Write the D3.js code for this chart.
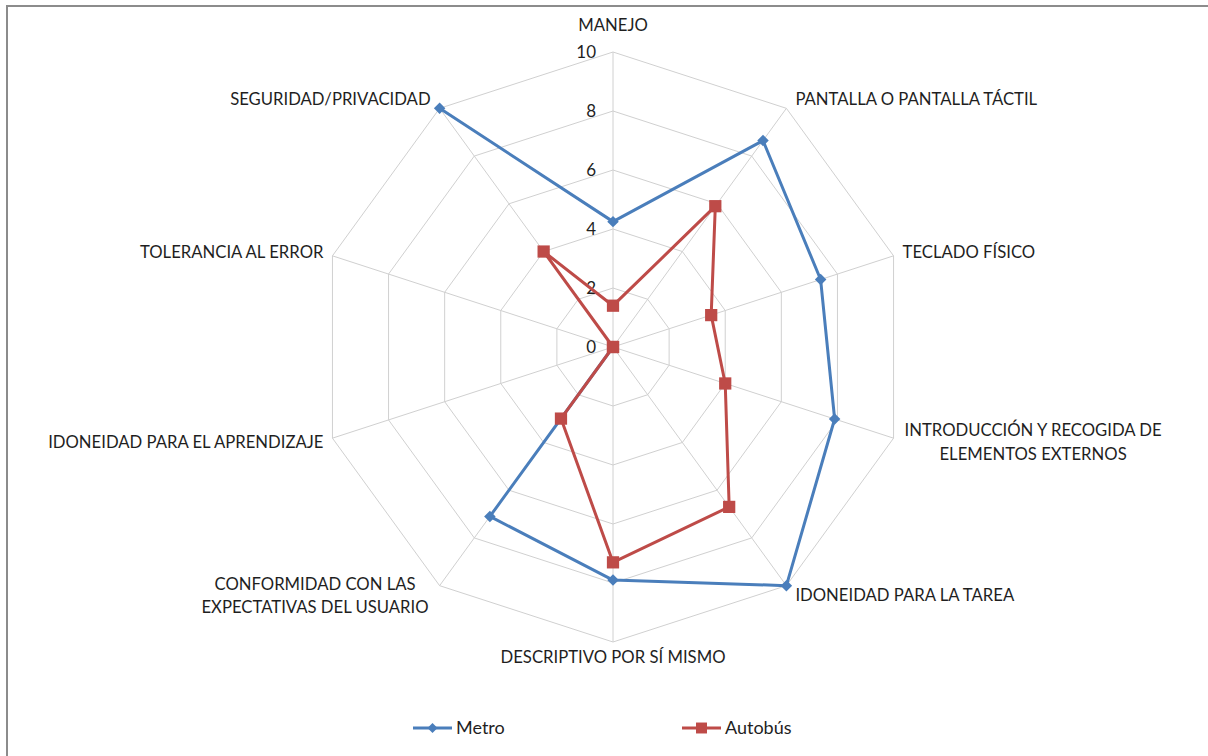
<!DOCTYPE html>
<html><head><meta charset="utf-8">
<script src="https://cdn.jsdelivr.net/npm/d3@7"></script>
<style>body{margin:0;background:#fff} svg{display:block}</style>
</head><body>
<svg id="c" width="1208" height="756"></svg>
<script>
const categories = ["MANEJO","PANTALLA O PANTALLA TÁCTIL","TECLADO FÍSICO","INTRODUCCIÓN Y RECOGIDA DE\nELEMENTOS EXTERNOS","IDONEIDAD PARA LA TAREA","DESCRIPTIVO POR SÍ MISMO","CONFORMIDAD CON LAS\nEXPECTATIVAS DEL USUARIO","IDONEIDAD PARA EL APRENDIZAJE","TOLERANCIA AL ERROR","SEGURIDAD/PRIVACIDAD"];
const metro   = [4.25, 8.65, 7.4, 7.9, 10, 7.9, 7.1, 0, null, 10];
const autobus = [1.4, 5.9, 3.5, 4.0, 6.7, 7.3, 3.0, 0, 0, 4.0];
const tickValues = [0, 2, 4, 6, 8, 10];
const seriesNames = ["Metro", "Autobús"];

const W = 1208, H = 756, cx = 613, cy = 347, R = 295;
const FONT = "Lato, 'Open Sans', sans-serif";
const TXT = "#1f1f1f";
const LABEL_SIZE = 16.7;
const colors = ["#4a7ebb", "#be4b48"];

const svg = d3.select("#c");
svg.append("rect").attr("x",7).attr("y",6).attr("width",W+20).attr("height",H+20)
  .attr("fill","#fff").attr("stroke","#8c8c8c").attr("stroke-width",2);

const n = categories.length;
const r = d3.scaleLinear().domain([0, 10]).range([0, R]);
const ang = d3.scaleLinear().domain([0, n]).range([0, 2*Math.PI]);
const g = svg.append("g").attr("transform", `translate(${cx},${cy})`);

// grid
const ringLine = d3.lineRadial().angle((d,i)=>ang(i)).radius(d=>r(d)).curve(d3.curveLinearClosed);
tickValues.filter(v=>v>0).forEach(v=>{
  g.append("path").attr("d", ringLine(d3.range(n).map(()=>v)))
   .attr("fill","none").attr("stroke","#d0d0d0").attr("stroke-width",1);
});
d3.range(n).forEach(i=>{
  const a = ang(i);
  g.append("line").attr("x1",0).attr("y1",0)
   .attr("x2", r(10)*Math.sin(a)).attr("y2", -r(10)*Math.cos(a))
   .attr("stroke","#d0d0d0").attr("stroke-width",1);
});

// tick labels
g.selectAll("text.tick").data(tickValues).join("text").attr("class","tick")
  .attr("x",-17).attr("y",d=>-r(d)).attr("dy","0.35em")
  .attr("text-anchor","end").attr("font-family",FONT).attr("font-size",17).attr("fill",TXT)
  .text(d=>d);

// series
const seriesData = [metro, autobus];
const pathLine = d3.lineRadial()
  .defined(d=>d.v!=null)
  .angle(d=>ang(d.i)).radius(d=>r(d.v));
seriesData.forEach((vals, s)=>{
  const pts = vals.map((v,i)=>({i, v}));
  const closed = pts.concat([{i:n, v: vals[0]}]);
  g.append("path").attr("d", pathLine(closed)).attr("fill","none")
   .attr("stroke", colors[s]).attr("stroke-width",3).attr("stroke-linejoin","round");
  const sym = s===0 ? d3.symbol(d3.symbolSquare, 66) : d3.symbol(d3.symbolSquare, 150);
  g.selectAll(null).data(pts.filter(d=>d.v!=null)).join("path")
   .attr("d", sym)
   .attr("transform", d=>{
     const a = ang(d.i), x = r(d.v)*Math.sin(a), y = -r(d.v)*Math.cos(a);
     return `translate(${x},${y})` + (s===0 ? " rotate(45)" : "");
   })
   .attr("fill", colors[s]);
});

// category labels
categories.forEach((c,i)=>{
  const a = ang(i), sn = Math.sin(a), cs = Math.cos(a);
  const vx = r(10)*sn, vy = -r(10)*cs;
  const lines = c.split("\n");
  const t = g.append("text").attr("font-family",FONT).attr("font-size",LABEL_SIZE).attr("fill",TXT);
  lines.forEach(l=>t.append("tspan").text(l));
  const tsp = t.selectAll("tspan");
  let widths = []; tsp.each(function(){ widths.push(this.getComputedTextLength()); });
  const wMax = d3.max(widths);
  let midY, x, anchor = "middle";
  if (Math.abs(sn) < 0.01) {
    x = vx; midY = vy - cs*(cs>0 ? 27 : 15);
  } else {
    const pad = lines.length>1 ? 11 : 9;
    midY = vy - cs*12;
    if (lines.length>1) { x = vx + (sn>0 ? 1 : -1)*(pad + wMax/2); }
    else { x = vx + (sn>0 ? pad : -pad); anchor = sn>0 ? "start" : "end"; }
  }
  const lh = 23.5;
  t.attr("text-anchor", anchor);
  tsp.attr("x", x).attr("y", (d,k)=> midY + (k-(lines.length-1)/2)*lh + 6);
});

// legend
const leg = svg.append("g").attr("transform","translate(413,728)");
seriesNames.forEach((name,s)=>{
  const lg = leg.append("g").attr("transform",`translate(${s*269},0)`);
  lg.append("line").attr("x1",0).attr("x2",39).attr("y1",0).attr("y2",0)
    .attr("stroke",colors[s]).attr("stroke-width",3);
  lg.append("path").attr("d", s===0 ? d3.symbol(d3.symbolSquare,50)() : d3.symbol(d3.symbolSquare,120)())
    .attr("transform",`translate(19.5,0)` + (s===0?" rotate(45)":"")).attr("fill",colors[s]);
  lg.append("text").attr("x",43).attr("y",6).attr("font-family",FONT).attr("font-size",18)
    .attr("fill",TXT).text(name);
});
</script>
</body></html>
